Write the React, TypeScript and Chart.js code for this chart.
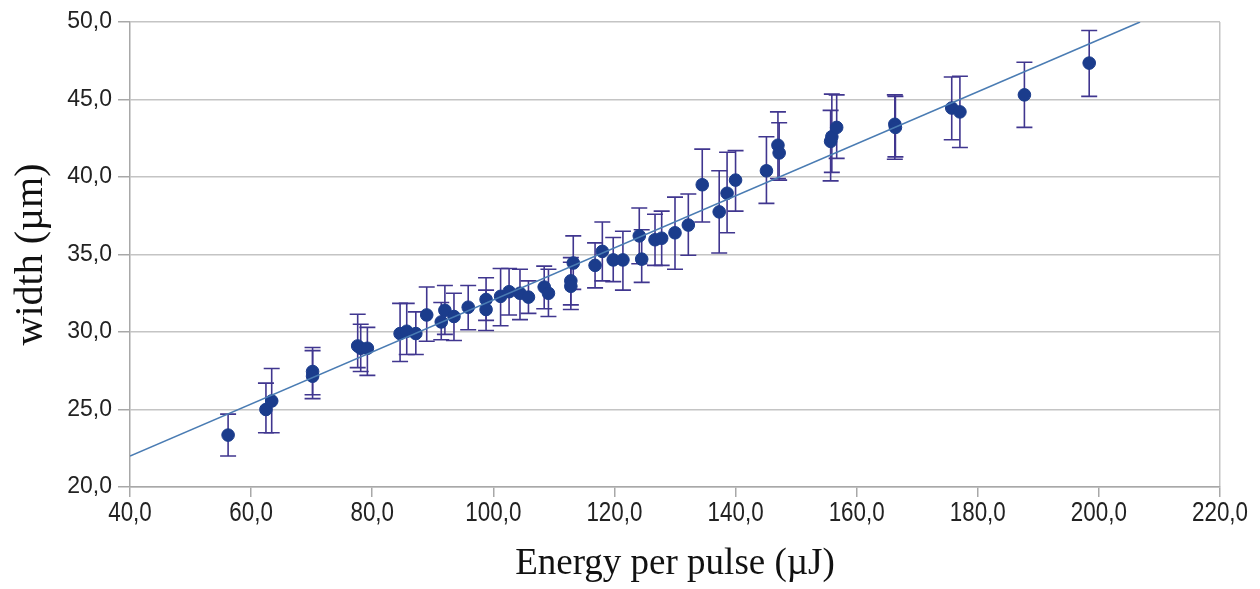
import React, { useEffect, useRef } from "react";
import { Chart, registerables } from "chart.js";

Chart.register(...registerables);

// Energy per pulse (µJ)
const energy = [
  56.2, 62.45, 63.4, 70.15, 70.15, 77.6, 78.1, 79.2, 84.6, 85.7, 87.2, 89.0,
  91.4, 92.0, 93.5, 95.85, 98.8, 98.8, 101.2, 102.6, 104.4, 105.8, 108.4, 109.1,
  112.8, 112.8, 113.2, 116.8, 118.0, 119.8, 121.4, 124.1, 124.5, 126.7, 127.8,
  130.0, 132.2, 134.5, 137.3, 138.6, 140.0, 145.1, 147.0, 147.2, 155.7, 155.9,
  156.7, 166.3, 166.4, 175.7, 177.05, 187.7, 198.4,
];
// width (µm)
const widthVals = [
  23.35, 25.0, 25.55, 27.45, 27.15, 29.1, 28.95, 28.95, 29.9, 30.05, 29.9, 31.1,
  30.65, 31.4, 31.0, 31.6, 32.1, 31.45, 32.3, 32.6, 32.5, 32.25, 32.9, 32.5,
  33.3, 32.95, 34.45, 34.3, 35.2, 34.65, 34.65, 36.2, 34.7, 35.95, 36.05,
  36.4, 36.9, 39.5, 37.75, 38.95, 39.8, 40.4, 42.05, 41.55, 42.3, 42.6,
  43.2, 43.4, 43.2, 44.45, 44.2, 45.3, 47.35,
];
// error bar upper ends
const widthHigh = [
  24.7, 26.7, 27.65, 29.0, 28.8, 31.15, 30.5, 30.3, 31.85, 31.85, 31.3, 32.9,
  31.9, 33.0, 32.5, 33.0, 33.5, 32.7, 34.1, 34.1, 34.05, 33.3, 34.25, 34.05,
  34.8, 34.5, 36.2, 35.75, 37.1, 36.1, 36.5, 38.0, 36.6, 37.6, 37.8,
  38.7, 38.9, 41.8, 40.4, 41.6, 41.7, 42.6, 44.2, 43.5, 44.3, 45.35,
  45.3, 45.3, 45.2, 46.45, 46.5, 47.4, 49.45,
];
// error bar lower ends
const widthLow = [
  22.0, 23.5, 23.5, 25.7, 25.95, 27.7, 27.45, 27.2, 28.1, 28.55, 28.55, 29.4,
  29.5, 29.85, 29.45, 30.15, 30.75, 30.1, 30.4, 31.1, 30.8, 31.2, 31.5, 31.0,
  31.75, 31.45, 32.75, 32.85, 33.3, 33.25, 32.7, 34.4, 33.2, 34.3, 34.3,
  34.05, 34.95, 37.1, 35.1, 36.4, 37.8, 38.3, 39.9, 39.8, 39.75, 40.3,
  41.2, 41.15, 41.3, 42.4, 41.9, 43.2, 45.2,
];
// linear trend line end points
const trendX = [40, 206.8];
const trendY = [22.0, 50.0];

const xTicks = [40, 60, 80, 100, 120, 140, 160, 180, 200, 220];
const yTicks = [20, 25, 30, 35, 40, 45, 50];

const fmt = (v: number) => v.toFixed(1).replace(".", ",");

const errorBarPlugin = {
  id: "errorBars",
  beforeDatasetsDraw(chart: any) {
    const xs = chart.scales.x;
    const ys = chart.scales.y;
    const ctx = chart.ctx;
    ctx.save();
    ctx.strokeStyle = "#40368f";
    ctx.lineWidth = 1.6;
    const cap = 8;
    for (let i = 0; i < energy.length; i++) {
      const px = xs.getPixelForValue(energy[i]);
      const top = ys.getPixelForValue(widthHigh[i]);
      const bot = ys.getPixelForValue(widthLow[i]);
      ctx.beginPath();
      ctx.moveTo(px, top);
      ctx.lineTo(px, bot);
      ctx.moveTo(px - cap, top);
      ctx.lineTo(px + cap, top);
      ctx.moveTo(px - cap, bot);
      ctx.lineTo(px + cap, bot);
      ctx.stroke();
    }
    ctx.restore();
  },
};

// draws the x tick labels horizontally condensed, as in the reference
const condensedXLabels = {
  id: "condensedXLabels",
  afterDraw(chart: any) {
    const xs = chart.scales.x;
    const ctx = chart.ctx;
    ctx.save();
    ctx.font = "28px 'Liberation Sans', Arial, sans-serif";
    ctx.fillStyle = "#222";
    ctx.textAlign = "center";
    ctx.textBaseline = "middle";
    const sx = 0.8;
    const y = xs.top + 26;
    for (const t of xs.ticks) {
      const px = xs.getPixelForValue(t.value);
      ctx.save();
      ctx.translate(px, y);
      ctx.scale(sx, 1);
      ctx.fillText(fmt(Number(t.value)), 0, 0);
      ctx.restore();
    }
    ctx.restore();
  },
};

export default function App() {
  const ref = useRef<HTMLCanvasElement>(null);
  useEffect(() => {
    if (!ref.current) return;
    const chart = new Chart(ref.current, {
      type: "scatter",
      data: {
        datasets: [
          {
            type: "line",
            label: "trend",
            data: trendX.map((x, i) => ({ x, y: trendY[i] })),
            borderColor: "#4a7cb3",
            borderWidth: 1.6,
            pointRadius: 0,
            fill: false,
          } as any,
          {
            label: "width",
            data: energy.map((x, i) => ({ x, y: widthVals[i] })),
            backgroundColor: "#1b3c8c",
            borderColor: "#1b3c8c",
            pointRadius: 6.3,
            pointHoverRadius: 6.3,
          },
        ],
      },
      options: {
        responsive: false,
        animation: false,
        layout: { padding: { top: 22, right: 40, left: 0, bottom: 0 } },
        plugins: {
          legend: { display: false },
          tooltip: { enabled: false },
        },
        scales: {
          x: {
            type: "linear",
            min: 40,
            max: 220,
            afterFit: (s: any) => {
              s.height = 102;
            },
            afterBuildTicks: (s: any) => {
              s.ticks = xTicks.map((v) => ({ value: v }));
            },
            ticks: {
              callback: (v: any) => fmt(Number(v)),
              color: "rgba(0,0,0,0)",
              padding: 0,
              maxRotation: 0,
              autoSkip: false,
              font: { family: "'Liberation Sans', Arial, sans-serif", size: 22 },
            },
            grid: {
              color: (c: any) => (c.index === xTicks.length - 1 ? "#c4c4c4" : "rgba(0,0,0,0)"),
              tickColor: "#a8a8a8",
              tickLength: 10,
              lineWidth: 1.5,
            },
            border: { color: "#a8a8a8", width: 1.5 },
            title: {
              display: true,
              text: "Energy per pulse (µJ)",
              color: "#111",
              padding: { top: 0, bottom: 3 },
              font: { family: "'Liberation Serif', 'Times New Roman', serif", size: 37 },
            },
          },
          y: {
            type: "linear",
            min: 20,
            max: 50,
            afterFit: (s: any) => {
              s.width = 130;
            },
            afterBuildTicks: (s: any) => {
              s.ticks = yTicks.map((v) => ({ value: v }));
            },
            ticks: {
              callback: (v: any) => fmt(Number(v)),
              color: "#222",
              padding: 6,
              font: { family: "'Liberation Sans', Arial, sans-serif", size: 23 },
            },
            grid: {
              color: "#c4c4c4",
              tickColor: "#a8a8a8",
              tickLength: 12,
              lineWidth: 1.5,
            },
            border: { color: "#a8a8a8", width: 1.5 },
            title: {
              display: true,
              text: "width (µm)",
              color: "#111",
              padding: { top: 7, bottom: 0 },
              font: { family: "'Liberation Serif', 'Times New Roman', serif", size: 40 },
            },
          },
        },
      },
      plugins: [errorBarPlugin, condensedXLabels],
    });
    return () => chart.destroy();
  }, []);
  return (
    <div style={{ position: "absolute", left: 0, top: 0, width: 1260, height: 589, background: "#fff" }}>
      <canvas ref={ref} width={1260} height={589} />
    </div>
  );
}
